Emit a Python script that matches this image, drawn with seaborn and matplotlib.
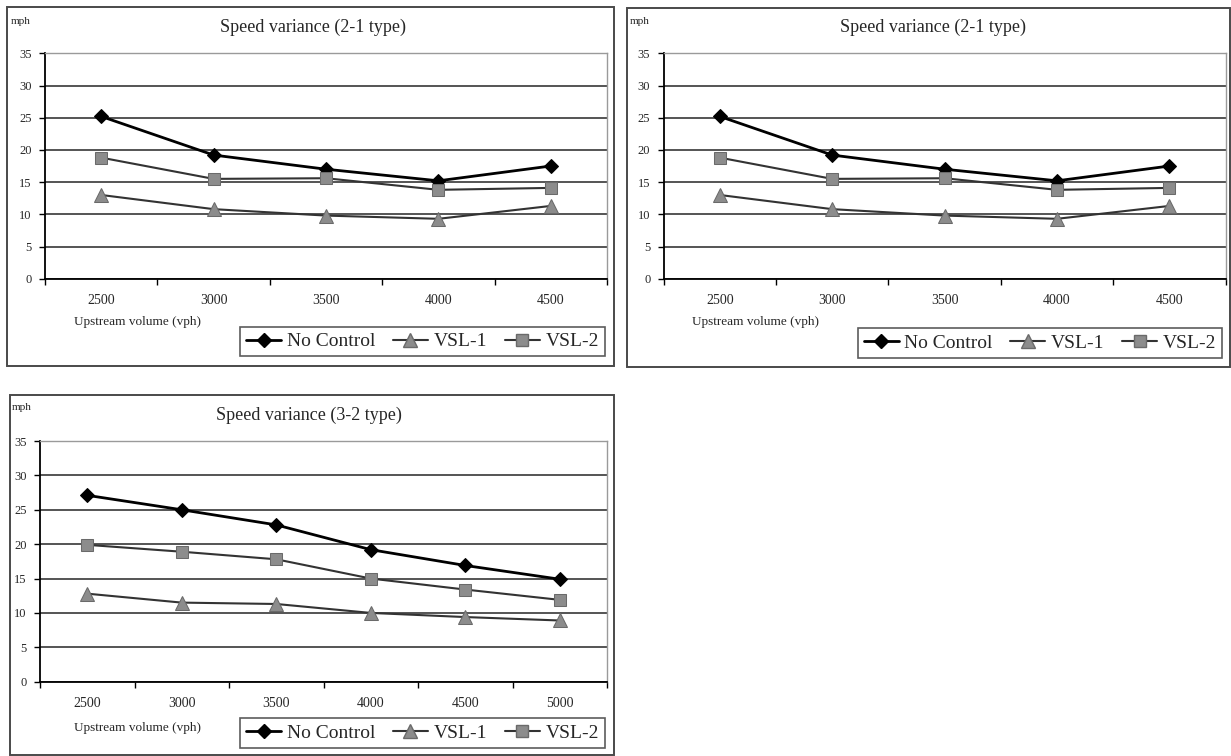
import matplotlib
matplotlib.use("Agg")
import matplotlib.pyplot as plt
from matplotlib.lines import Line2D
from matplotlib.patches import Rectangle
import numpy as np
import pandas as pd
import seaborn as sns

# ---- data -------------------------------------------------------------
volumes_21 = ["2500", "3000", "3500", "4000", "4500"]
no_control_21 = [25.2, 19.2, 17.0, 15.2, 17.5]
vsl1_21 = [13.0, 10.8, 9.8, 9.3, 11.3]
vsl2_21 = [18.8, 15.5, 15.6, 13.8, 14.1]

volumes_32 = ["2500", "3000", "3500", "4000", "4500", "5000"]
no_control_32 = [27.1, 25.0, 22.8, 19.2, 16.9, 14.9]
vsl1_32 = [12.8, 11.5, 11.3, 10.0, 9.4, 8.9]
vsl2_32 = [19.9, 18.9, 17.8, 15.0, 13.4, 11.9]

series_names = ["No Control", "VSL-1", "VSL-2"]
title_21 = "Speed variance (2-1 type)"
title_32 = "Speed variance (3-2 type)"
y_unit = "mph"
x_label = "Upstream volume (vph)"
y_ticks = [0, 5, 10, 15, 20, 25, 30, 35]

# ---- styling ----------------------------------------------------------
sns.set_theme(style="white")
plt.rcParams["font.family"] = ["Liberation Serif", "DejaVu Serif"]

W, H = 1231, 756
fig = plt.figure(figsize=(W / 100, H / 100), dpi=100)
fig.patch.set_facecolor("white")


def frac_rect(l, t, r, b):
    return [l / W, 1 - b / H, (r - l) / W, (b - t) / H]


def fx(x):
    return x / W


def fy(y):
    return 1 - y / H


styles = {
    "No Control": dict(color="black", marker="D", markersize=7.5,
                       markerfacecolor="black", markeredgecolor="black",
                       linewidth=2.0),
    "VSL-1": dict(color="#333333", marker="^", markersize=9.5,
                  markerfacecolor="#8c8c8c", markeredgecolor="#6a6a6a",
                  linewidth=1.5),
    "VSL-2": dict(color="#333333", marker="s", markersize=8.5,
                  markerfacecolor="#8c8c8c", markeredgecolor="#6a6a6a",
                  linewidth=1.5),
}


def draw_panel(box, axrect, cats, values, title, title_xy, mph_xy,
               xlabel_xy, legend_xy):
    # outer frame of the panel
    l, t, r, b = box
    fig.add_artist(Rectangle((fx(l), fy(b)), (r - l) / W, (b - t) / H,
                             transform=fig.transFigure, fill=False,
                             edgecolor="#4a4a4a", linewidth=1.4))
    ax = fig.add_axes(frac_rect(*axrect))
    n = len(cats)
    frames = []
    for name, vals in zip(series_names, values):
        frames.append(pd.DataFrame({"pos": np.arange(n), "mph": vals,
                                    "series": name}))
    df = pd.concat(frames, ignore_index=True)
    for name in series_names:
        sub = df[df["series"] == name]
        sns.lineplot(data=sub, x="pos", y="mph", ax=ax, legend=False,
                     zorder=3, **styles[name])

    ax.set_xlim(-0.5, n - 0.5)
    ax.set_ylim(0, 35)
    ax.set_yticks(y_ticks)
    ax.set_yticklabels([str(v) for v in y_ticks], fontsize=9)
    ax.set_xticks(np.arange(n))
    ax.set_xticklabels(cats, fontsize=10)
    ax.set_xticks(np.arange(-0.5, n, 1.0), minor=True)
    ax.tick_params(axis="x", which="major", length=0, pad=11)
    ax.tick_params(axis="x", which="minor", length=4, width=1,
                   direction="out", color="black", bottom=True)
    ax.tick_params(axis="y", which="major", length=4.5, width=1,
                   direction="out", color="black", left=True, pad=5)
    ax.set_xlabel("")
    ax.set_ylabel("")
    ax.yaxis.grid(True, color="#262626", linewidth=1.1)
    ax.xaxis.grid(False)
    ax.set_axisbelow(True)
    for side in ("left", "bottom"):
        ax.spines[side].set_color("black")
        ax.spines[side].set_linewidth(1.3)
    for side in ("top", "right"):
        ax.spines[side].set_color("#9a9a9a")
        ax.spines[side].set_linewidth(1.0)
    ax.set_facecolor("white")

    fig.text(fx(title_xy[0]), fy(title_xy[1]), title, ha="center",
             va="center", fontsize=13)
    fig.text(fx(mph_xy[0]), fy(mph_xy[1]), y_unit, ha="left", va="center",
             fontsize=8)
    fig.text(fx(xlabel_xy[0]), fy(xlabel_xy[1]), x_label, ha="center",
             va="center", fontsize=9.5)

    handles = [Line2D([], [], **styles[nm]) for nm in series_names]
    leg = fig.legend(handles, series_names, loc="center",
                     bbox_to_anchor=(fx(legend_xy[0]), fy(legend_xy[1])),
                     bbox_transform=fig.transFigure, ncol=3, fontsize=14,
                     frameon=True, fancybox=False, handlelength=1.8,
                     handletextpad=0.3, columnspacing=0.9, borderpad=0.3)
    leg.get_frame().set_edgecolor("#333333")
    leg.get_frame().set_linewidth(1.2)
    return ax


draw_panel((7, 7, 614, 366), (45, 53.3, 607, 278.7), volumes_21,
           [no_control_21, vsl1_21, vsl2_21], title_21,
           (313, 27), (11, 21), (138, 322), (422.5, 341.5))

draw_panel((627, 8, 1230, 367), (663.5, 53.3, 1225.7, 278.7), volumes_21,
           [no_control_21, vsl1_21, vsl2_21], title_21,
           (933, 27), (630, 21), (756, 322), (1040, 343))

draw_panel((10, 395, 614, 755), (40, 441, 607, 681.7), volumes_32,
           [no_control_32, vsl1_32, vsl2_32], title_32,
           (309, 415), (12, 408), (137, 728), (422.5, 733))

fig.savefig("out.png", dpi=100, facecolor="white")
